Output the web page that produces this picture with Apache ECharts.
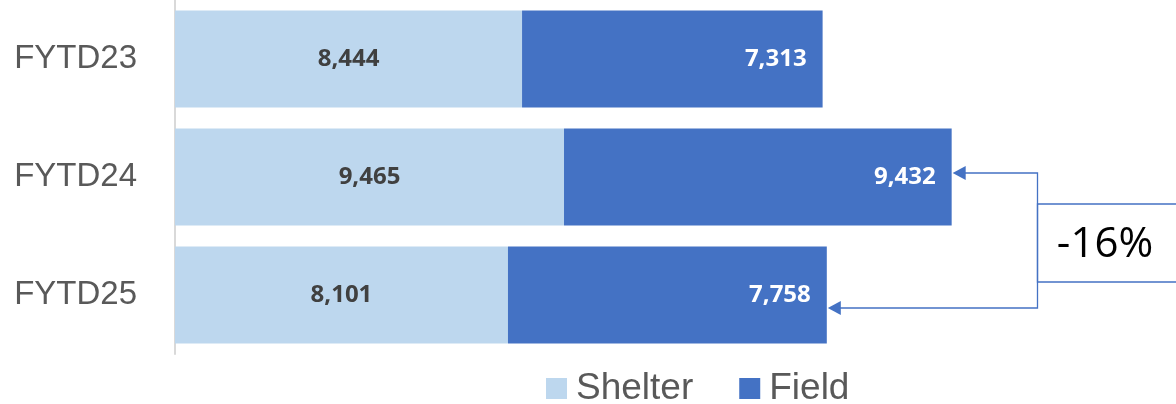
<!DOCTYPE html>
<html>
<head>
<meta charset="utf-8">
<script src="https://cdn.jsdelivr.net/npm/echarts@6/dist/echarts.min.js"></script>
<style>
  html, body { margin: 0; padding: 0; background: #fff; }
  #chart { width: 1176px; height: 404px; }
</style>
</head>
<body>
<div id="chart"></div>
<script>
// Fiscal-year-to-date counts, split into shelter and field
const categories = ['FYTD23', 'FYTD24', 'FYTD25'];
const shelter = [8444, 9465, 8101];
const field = [7313, 9432, 7758];
const changeLabel = '-16%';

const LIGHT = '#bdd7ee';
const DARK = '#4472c4';

const chart = echarts.init(document.getElementById('chart'));

const option = {
  animation: false,
  grid: { left: 175, right: 179, top: 0, bottom: 50, containLabel: false },
  xAxis: {
    type: 'value', min: 0, max: 20000,
    show: false
  },
  yAxis: {
    type: 'category', data: categories, inverse: true,
    axisLine: { show: true, lineStyle: { color: '#d9d9d9', width: 2 } },
    axisTick: { show: false },
    axisLabel: { margin: 38, color: '#595959', fontSize: 33, fontFamily: 'Liberation Sans', padding: [3, 0, 0, 0] }
  },
  legend: {
    left: 541, top: 365, padding: 5,
    itemWidth: 21, itemHeight: 21, itemGap: 46,
    icon: 'rect',
    textStyle: { color: '#595959', fontSize: 37, fontFamily: 'Liberation Sans', padding: [0, 0, 0, 4] },
    data: ['Shelter', 'Field']
  },
  series: [
    {
      name: 'Shelter', type: 'bar', stack: 'total', data: shelter,
      barCategoryGap: '18%',
      itemStyle: { color: LIGHT },
      label: {
        show: true, position: 'inside', color: '#404040',
        fontFamily: 'Open Sans', fontWeight: 'bold', fontSize: 24,
        formatter: p => p.value.toLocaleString('en-US')
      }
    },
    {
      name: 'Field', type: 'bar', stack: 'total', data: field,
      barCategoryGap: '18%',
      itemStyle: { color: DARK },
      label: {
        show: true, position: 'insideRight', distance: 16, color: '#ffffff',
        fontFamily: 'Open Sans', fontWeight: 'bold', fontSize: 24,
        formatter: p => p.value.toLocaleString('en-US')
      }
    }
  ]
};

chart.setOption(option);

// Bracket showing the change from FYTD24 to FYTD25
const total24 = shelter[1] + field[1];
const total25 = shelter[2] + field[2];
const p24 = chart.convertToPixel({ xAxisIndex: 0, yAxisIndex: 0 }, [total24, categories[1]]);
const p25 = chart.convertToPixel({ xAxisIndex: 0, yAxisIndex: 0 }, [total25, categories[2]]);
const bx = 1037.5;
const lineStyle = { stroke: DARK, lineWidth: 1.3 };
const arrow = (tipX, y) => ({
  type: 'polygon',
  shape: { points: [[tipX, y], [tipX + 13, y - 7], [tipX + 13, y + 7]] },
  style: { fill: DARK }
});

chart.setOption({
  graphic: [
    { type: 'polyline', shape: { points: [[p24[0] + 10, p24[1] - 4], [bx, p24[1] - 4], [bx, p25[1] + 13], [p25[0] + 10, p25[1] + 13]] }, style: Object.assign({ fill: null }, lineStyle) },
    arrow(p24[0] + 1, p24[1] - 4),
    arrow(p25[0] + 1, p25[1] + 13),
    { type: 'rect', shape: { x: bx, y: 204, width: 200, height: 78 }, style: { fill: 'none', stroke: DARK, lineWidth: 1.3 } },
    {
      type: 'text', x: 1105, y: 245,
      style: { text: changeLabel, fill: '#000', fontSize: 42, fontFamily: 'Open Sans', align: 'center', verticalAlign: 'middle' }
    }
  ]
});
</script>
</body>
</html>
